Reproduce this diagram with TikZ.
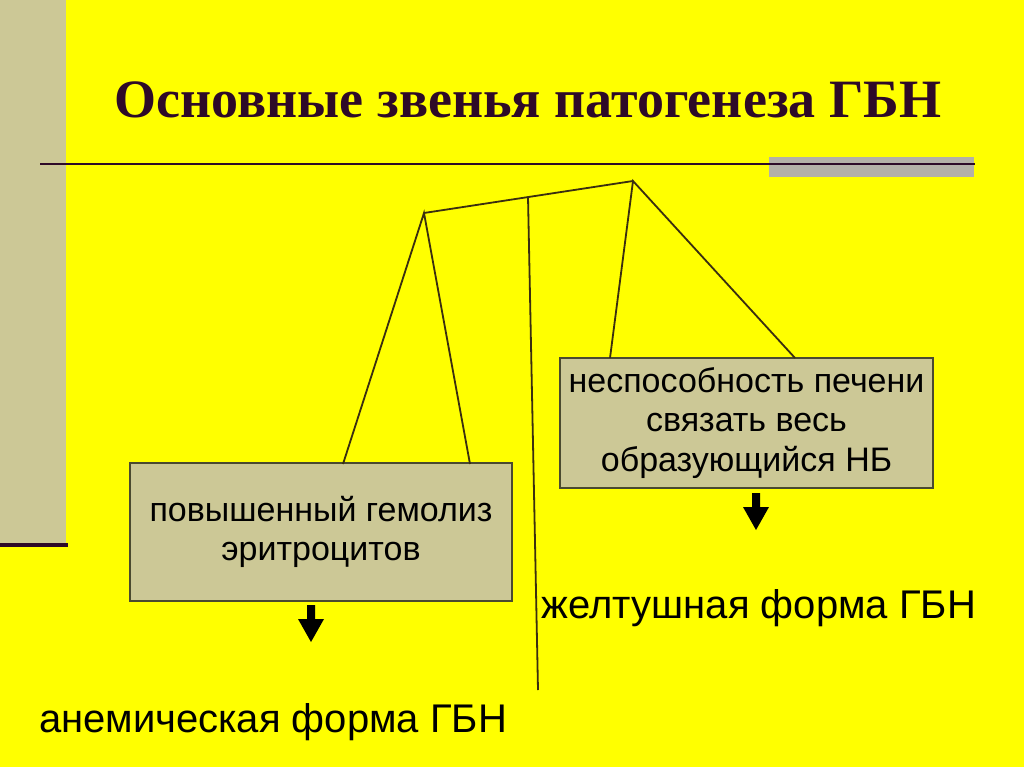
\documentclass[tikz,border=0pt]{standalone}
\usepackage{fontspec}
\usetikzlibrary{calc}
\setmainfont{Liberation Serif}
\newfontfamily\bodyfont{Liberation Sans}
\definecolor{bgyellow}{HTML}{FFFF00}
\definecolor{tanbar}{HTML}{CCC896}
\definecolor{titlecol}{HTML}{2E0A28}
\definecolor{linecol}{HTML}{3A2E10}
\definecolor{graybar}{HTML}{B4B0A8}
\definecolor{boxfill}{HTML}{CCC896}
\definecolor{boxline}{HTML}{4A4A30}
\tikzset{
  conn/.style={draw=linecol, line width=1.8pt},
  infobox/.style={draw=boxline, line width=1.4pt, fill=boxfill, inner sep=0pt, align=center, font=\bodyfont\fontsize{34}{39.5}\selectfont},
  plain/.style={inner sep=0pt, font=\bodyfont\fontsize{40}{46}\selectfont},
  downarrow/.style={fill=black, draw=none}
}
\begin{document}
\begin{tikzpicture}[x=1pt,y=-1pt]
\useasboundingbox (0,0) rectangle (1024,767);
\fill[bgyellow] (0,0) rectangle (1024,767);
\fill[tanbar] (0,0) rectangle (66,545);
\draw[titlecol, line width=4pt] (0,545) -- (68,545);
\fill[graybar] (769,157) rectangle (974,177);
\draw[titlecol, line width=2.2pt] (40,164) -- (975,164);
\node[text=titlecol, font=\fontsize{54}{60}\selectfont\bfseries, inner sep=0pt] (title) at (528,100) {Основные звенья патогенеза ГБН};

\node[infobox, minimum width=382pt, minimum height=138pt] (hem) at (321,532) {повышенный гемолиз\\эритроцитов};
\node[infobox, minimum width=373pt, minimum height=130pt] (liv) at (746.5,423) {неспособность печени\\связать весь\\образующийся НБ};

\coordinate (apexL) at (424,213);
\coordinate (apexR) at (633,181);
\coordinate (midtop) at (528,197);
\coordinate (midbot) at (538,690);
\coordinate (hemA) at (343,464);
\coordinate (hemB) at (470,464);
\coordinate (livA) at (610,358);
\coordinate (livB) at (795,358);

\draw[conn] (hemA) -- (apexL) -- (hemB);
\draw[conn] (apexL) -- (apexR);
\draw[conn] (livA) -- (apexR) -- (livB);
\draw[conn] (midtop) -- (midbot);

\coordinate (arL) at (311,605);
\coordinate (arR) at (756,493);
\fill[downarrow] ($(arL)+(-4,0)$) -- ++(8,0) -- ++(0,14) -- ++(9,0) -- ($(arL)+(0,37)$) -- ++(-13,-23) -- ++(9,0) -- cycle;
\fill[downarrow] ($(arR)+(-4,0)$) -- ++(8,0) -- ++(0,14) -- ++(9,0) -- ($(arR)+(0,37)$) -- ++(-13,-23) -- ++(9,0) -- cycle;

\node[plain] (jaund) at (759,608) {желтушная форма ГБН};
\node[plain] (anem) at (273,722) {анемическая форма ГБН};
\end{tikzpicture}
\end{document}
